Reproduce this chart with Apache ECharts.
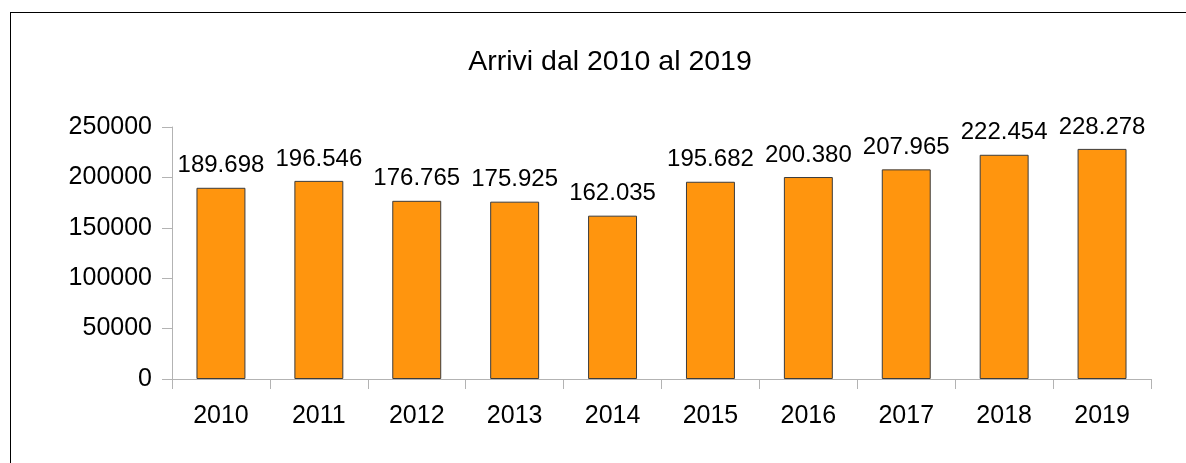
<!DOCTYPE html>
<html>
<head>
<meta charset="utf-8">
<script src="https://cdn.jsdelivr.net/npm/echarts@6/dist/echarts.min.js"></script>
<style>
    html, body { margin: 0; padding: 0; background: #fff; overflow: hidden; }
    #frame { position: absolute; left: 10px; top: 12px; width: 1300px; height: 600px;
             border-left: 1px solid #000; border-top: 1px solid #000; }
    #chart { position: absolute; left: 0; top: 0; width: 1186px; height: 463px; }
</style>
</head>
<body>
<div id="frame"></div>
<div id="chart"></div>
<script>
// anni e arrivi
var years = ['2010', '2011', '2012', '2013', '2014', '2015', '2016', '2017', '2018', '2019'];
var arrivals = [189698, 196546, 176765, 175925, 162035, 195682, 200380, 207965, 222454, 228278];
var yTicks = [0, 50000, 100000, 150000, 200000, 250000];

var formatThousands = function (v) {
    return String(v).replace(/\B(?=(\d{3})+(?!\d))/g, '.');
};

var font = 'Liberation Sans';

var options = {
    animation: false,
    title: {
        text: 'Arrivi dal 2010 al 2019',
        left: 605,
        top: 43,
        textAlign: 'center',
        textStyle: {
            fontFamily: font,
            fontSize: 28.5,
            fontWeight: 'normal',
            color: '#000'
        }
    },
    grid: {
        left: 172,
        right: 35,
        top: 127,
        bottom: 84,
        containLabel: false
    },
    xAxis: {
        type: 'category',
        data: years,
        axisLine: { lineStyle: { color: '#b3b3b3', width: 1 } },
        axisTick: { show: true, length: 10, lineStyle: { color: '#b3b3b3' } },
        axisLabel: {
            margin: 25,
            fontFamily: font,
            fontSize: 25,
            color: '#000'
        }
    },
    yAxis: {
        type: 'value',
        min: yTicks[0],
        max: yTicks[yTicks.length - 1],
        interval: yTicks[1] - yTicks[0],
        splitLine: { show: false },
        axisLine: { show: true, lineStyle: { color: '#b3b3b3', width: 1 } },
        axisTick: { show: true, length: 10, lineStyle: { color: '#b3b3b3' } },
        axisLabel: {
            margin: 20,
            fontFamily: font,
            fontSize: 25,
            color: '#000',
            formatter: function (v) {
                return String(v);
            }
        }
    },
    series: [
        {
            name: 'Arrivi',
            type: 'bar',
            data: arrivals,
            barWidth: '50%',
            itemStyle: {
                color: '#ff950e',
                borderColor: '#3c3c3c',
                borderWidth: 1
            },
            label: {
                show: true,
                position: 'top',
                distance: 10,
                fontFamily: font,
                fontSize: 24,
                color: '#000',
                formatter: function (p) {
                    return formatThousands(p.value);
                }
            }
        }
    ]
};

var chart = echarts.init(document.getElementById('chart'));
chart.setOption(options);
</script>
</body>
</html>
